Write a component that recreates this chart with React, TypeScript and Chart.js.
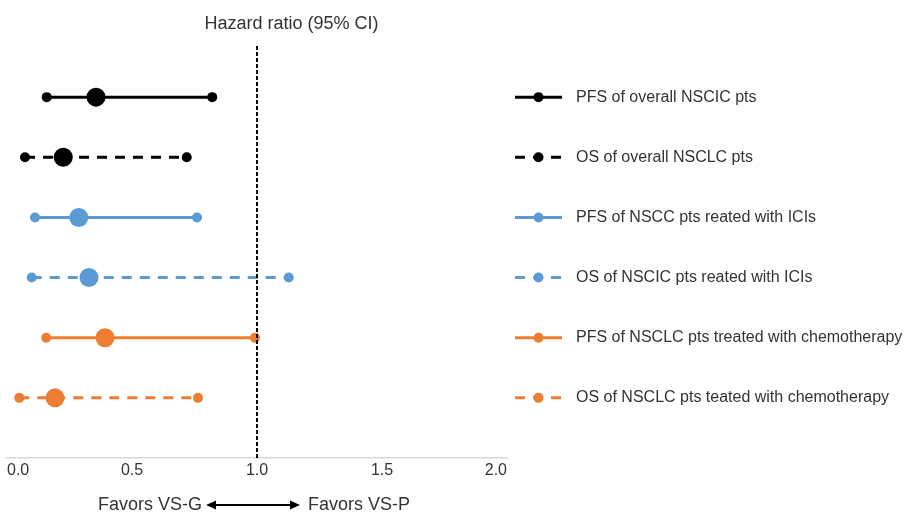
import React, { useEffect, useRef } from "react";
import { Chart, registerables } from "chart.js";

Chart.register(...registerables);

// ---- data ----
const rowLabels = [
  "PFS of overall NSCIC pts",
  "OS of overall NSCLC pts",
  "PFS of NSCC pts reated with ICIs",
  "OS of NSCIC pts reated with ICIs",
  "PFS of NSCLC pts treated with chemotherapy",
  "OS of NSCLC pts teated with chemotherapy",
];
const rowPos = [6, 5, 4, 3, 2, 1];
const hrPoint = [0.356, 0.225, 0.287, 0.328, 0.392, 0.192];
const ciLow = [0.159, 0.072, 0.112, 0.099, 0.157, 0.049];
const ciHigh = [0.821, 0.719, 0.76, 1.127, 0.992, 0.764];
const rowColors = ["#000000", "#000000", "#5B9BD5", "#5B9BD5", "#ED7D31", "#ED7D31"];
const rowDashed = [false, true, false, true, false, true];
const xTicks = [0, 0.5, 1.0, 1.5, 2.0];
const refLine = { x: 1.0, yFrom: 0, yTo: 6.86 };
const titleText = "Hazard ratio (95% CI)";
const favorsLeft = "Favors VS-G";
const favorsRight = "Favors VS-P";

const FONT = '"Liberation Sans", Arial, Helvetica, sans-serif';
const TEXT = "#333333";

const overlayPlugin = {
  id: "overlay",
  afterDraw(chart: any) {
    const ctx = chart.ctx as CanvasRenderingContext2D;
    const ys = chart.scales.y;
    ctx.save();
    // title
    ctx.fillStyle = TEXT;
    ctx.font = `18px ${FONT}`;
    ctx.textAlign = "center";
    ctx.textBaseline = "alphabetic";
    ctx.fillText(titleText, 291.5, 29);

    // legend
    rowLabels.forEach((label, i) => {
      const py = ys.getPixelForValue(rowPos[i]);
      ctx.strokeStyle = rowColors[i];
      ctx.fillStyle = rowColors[i];
      ctx.lineWidth = 3;
      ctx.setLineDash(rowDashed[i] ? [10, 8] : []);
      ctx.beginPath();
      ctx.moveTo(515, py);
      ctx.lineTo(562, py);
      ctx.stroke();
      ctx.setLineDash([]);
      ctx.beginPath();
      ctx.arc(538.5, py, 5, 0, Math.PI * 2);
      ctx.fill();
      ctx.fillStyle = TEXT;
      ctx.font = `16px ${FONT}`;
      ctx.textAlign = "left";
      ctx.textBaseline = "middle";
      ctx.fillText(label, 576, py);
    });

    // favors arrow
    const by = 510;
    const ay = 505;
    ctx.fillStyle = TEXT;
    ctx.font = `18px ${FONT}`;
    ctx.textBaseline = "alphabetic";
    ctx.textAlign = "right";
    ctx.fillText(favorsLeft, 202, by);
    ctx.textAlign = "left";
    ctx.fillText(favorsRight, 308, by);
    ctx.strokeStyle = "#000";
    ctx.fillStyle = "#000";
    ctx.lineWidth = 2;
    ctx.beginPath();
    ctx.moveTo(214, ay);
    ctx.lineTo(292, ay);
    ctx.stroke();
    ctx.beginPath();
    ctx.moveTo(206, ay);
    ctx.lineTo(216, ay - 4.5);
    ctx.lineTo(216, ay + 4.5);
    ctx.closePath();
    ctx.fill();
    ctx.beginPath();
    ctx.moveTo(300, ay);
    ctx.lineTo(290, ay - 4.5);
    ctx.lineTo(290, ay + 4.5);
    ctx.closePath();
    ctx.fill();
    ctx.restore();
  },
};

export default function App() {
  const ref = useRef<HTMLCanvasElement | null>(null);
  useEffect(() => {
    if (!ref.current) return;
    const datasets: any[] = [
      {
        type: "line",
        data: [
          { x: refLine.x, y: refLine.yFrom },
          { x: refLine.x, y: refLine.yTo },
        ],
        borderColor: "#000",
        borderWidth: 2,
        borderDash: [4, 2],
        pointRadius: 0,
        fill: false,
      },
    ];
    rowLabels.forEach((label, i) => {
      datasets.push({
        type: "line",
        label,
        data: [
          { x: ciLow[i], y: rowPos[i] },
          { x: hrPoint[i], y: rowPos[i] },
          { x: ciHigh[i], y: rowPos[i] },
        ],
        borderColor: rowColors[i],
        backgroundColor: rowColors[i],
        pointBackgroundColor: rowColors[i],
        pointBorderWidth: 0,
        borderWidth: 3,
        borderDash: rowDashed[i] ? [10, 8] : [],
        pointRadius: [5, 9.5, 5],
        fill: false,
      });
    });
    const chart = new Chart(ref.current, {
      type: "line",
      data: { datasets },
      options: {
        animation: false,
        responsive: false,
        devicePixelRatio: 1,
        clip: false as any,
        layout: { padding: { left: 7, right: 398, top: 37, bottom: 0 } },
        plugins: { legend: { display: false }, tooltip: { enabled: false }, title: { display: false } },
        scales: {
          x: {
            type: "linear",
            min: 0,
            max: 2,
            afterBuildTicks: (s: any) => {
              s.ticks = xTicks.map((v) => ({ value: v }));
            },
            afterFit: (s: any) => {
              s.height = 54;
            },
            grid: { display: false, drawTicks: false },
            border: { display: true, color: "#d9d9d9", width: 1.5 },
            ticks: {
              align: "inner",
              padding: 3,
              color: TEXT,
              font: { family: FONT, size: 16 },
              callback: (v: any) => Number(v).toFixed(1),
            },
          },
          y: { type: "linear", min: 0, max: 7, display: false },
        },
      },
      plugins: [overlayPlugin],
    } as any);
    return () => chart.destroy();
  }, []);
  return (
    <div style={{ position: "fixed", left: 0, top: 0, width: 905, height: 512, background: "#fff" }}>
      <canvas ref={ref} width={905} height={512} />
    </div>
  );
}
